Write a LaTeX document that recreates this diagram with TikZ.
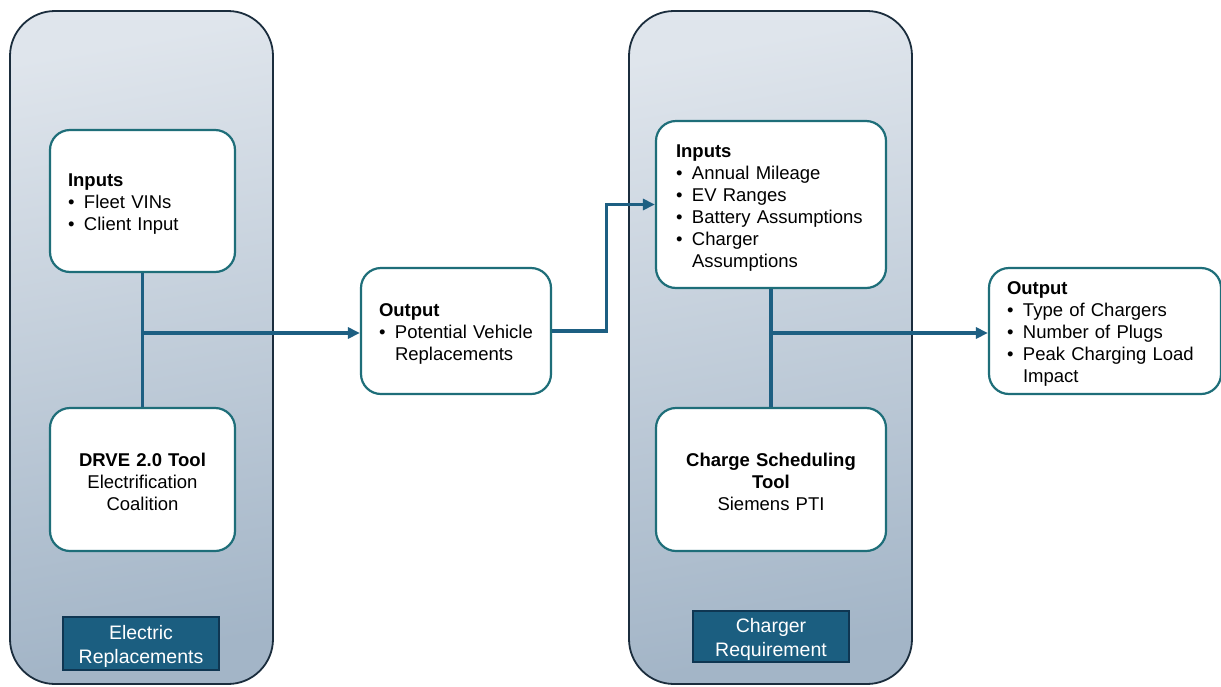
\documentclass[tikz,border=0pt]{standalone}
\usepackage{fontspec}
\setmainfont{Liberation Sans}
\usetikzlibrary{arrows.meta}
\definecolor{frameC}{HTML}{1B2D3D}
\definecolor{tealC}{HTML}{1E6E79}
\definecolor{lineC}{HTML}{1D5F82}
\definecolor{tagC}{HTML}{1B5E80}
\definecolor{tagB}{HTML}{0F3652}
\definecolor{topC}{HTML}{DFE5EC}
\definecolor{botC}{HTML}{A3B5C7}
\newcommand{\bl}{\makebox[16pt][l]{\textbullet}}
\newcommand{\ind}{\hspace*{16pt}}
\tikzset{
  panel/.style={draw=frameC, line width=1.8pt, rounded corners=45pt,
    top color=topC, bottom color=botC, shading angle=10},
  card/.style={draw=tealC, line width=2.2pt, fill=white, rounded corners=20pt,
    inner sep=0pt, font=\fontsize{18.5}{22}\selectfont,
    execute at begin node={\rule{0pt}{19pt}}},
  cardL/.style={card, align=left},
  cardC/.style={card, align=center},
  tag/.style={draw=tagB, line width=1.5pt, fill=tagC, text=white, align=center,
    inner sep=0pt, font=\fontsize{19.5}{24}\selectfont,
    execute at begin node={\rule{0pt}{20pt}}},
  link/.style={draw=lineC, line width=3.2pt},
  arr/.style={link, -{Triangle[length=12pt,width=11pt]}}
}
\begin{document}
\begin{tikzpicture}[x=1pt,y=-1pt]
\useasboundingbox (0,0) rectangle (1221,686);
\fill[white] (0,0) rectangle (1221,686);

% two shaded panels
\path[panel] (10,11) rectangle (273,684);
\path[panel] (629,11) rectangle (912,684);

% cards of the first panel
\node[cardL, minimum width=185pt, minimum height=142pt, text width=149pt] (inL) at (142.5,201)
  {\textbf{Inputs}\\ \bl Fleet VINs\\ \bl Client Input};
\node[cardC, minimum width=185pt, minimum height=143pt, text width=175pt] (drve) at (142.5,479.5)
  {\textbf{DRVE 2.0 Tool}\\ Electrification\\ Coalition};
\node[tag, minimum width=156pt, minimum height=53pt, text width=150pt] (tagL) at (141,643.5)
  {Electric\\ Replacements};

% middle output card
\node[cardL, minimum width=190pt, minimum height=126pt, text width=154pt] (outM) at (456,331)
  {\textbf{Output}\\ \bl Potential Vehicle\\ \ind Replacements};

% cards of the second panel
\node[cardL, minimum width=230pt, minimum height=167pt, text width=190pt] (inR) at (771,204.5)
  {\textbf{Inputs}\\ \bl Annual Mileage\\ \bl EV Ranges\\ \bl Battery Assumptions\\ \bl Charger\\ \ind Assumptions};
\node[cardC, minimum width=230pt, minimum height=143pt, text width=215pt] (cst) at (771,479.5)
  {\textbf{Charge Scheduling}\\ \textbf{Tool}\\ Siemens PTI};
\node[tag, minimum width=156pt, minimum height=51pt, text width=150pt] (tagR) at (771,636.5)
  {Charger\\ Requirement};

% final output card
\node[cardL, minimum width=232pt, minimum height=126pt, text width=196pt] (outR) at (1105,331)
  {\textbf{Output}\\ \bl Type of Chargers\\ \bl Number of Plugs\\ \bl Peak Charging Load\\ \ind Impact};

% connectors
\coordinate (jL) at (inL.south |- 0,333);
\coordinate (jR) at (inR.south |- 0,333);
\draw[link] (inL.south) -- (drve.north);
\draw[arr] (jL) -- (jL -| outM.west);
\draw[arr] (outM.east) -- ++(54,0) |- (inR.west);
\draw[link] (inR.south) -- (cst.north);
\draw[arr] (jR) -- (jR -| outR.west);
\end{tikzpicture}
\end{document}
